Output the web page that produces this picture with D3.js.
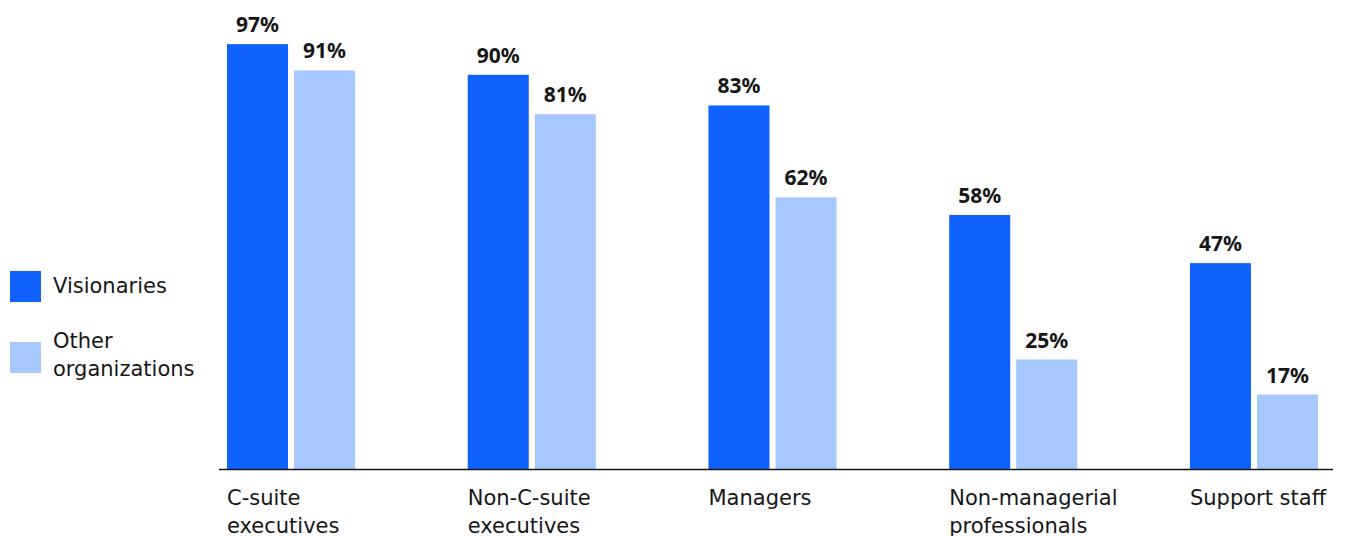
<!DOCTYPE html>
<html>
<head>
<meta charset="utf-8">
<script src="https://cdn.jsdelivr.net/npm/d3@7"></script>
<style>
  body { margin: 0; background: #fff; }
  text { font-family: "DejaVu Sans", "Noto Sans", sans-serif; fill: #161616; }
  text.value { font-family: "Noto Sans", sans-serif; }
</style>
</head>
<body>
<svg id="chart" width="1348" height="536"></svg>
<script>
const categories = [
  ["C-suite", "executives"],
  ["Non-C-suite", "executives"],
  ["Managers"],
  ["Non-managerial", "professionals"],
  ["Support staff"]
];
const seriesNames = ["Visionaries", "Other organizations"];
const legendLines = [["Visionaries"], ["Other", "organizations"]];
const visionaries = [97, 90, 83, 58, 47];
const others = [91, 81, 62, 25, 17];
const colors = ["#0f62fe", "#a6c8ff"];

const svg = d3.select("svg#chart");

//scales
const x0 = d3
  .scaleBand()
  .domain(d3.range(categories.length))
  .range([227, 1318])
  .paddingInner(0.468)
  .paddingOuter(0);

const x1 = d3
  .scaleBand()
  .domain(d3.range(seriesNames.length))
  .range([0, x0.bandwidth()])
  .paddingInner(0.0896)
  .paddingOuter(0);

const y = d3.scaleLinear().domain([0, 100]).range([469, 31]);

const rows = categories.map((c, i) => ({
  label: c,
  values: [visionaries[i], others[i]]
}));

//bars
const groups = svg
  .selectAll("g.group")
  .data(rows)
  .join("g")
  .attr("class", "group")
  .attr("transform", (d, i) => `translate(${x0(i)},0)`);

groups
  .selectAll("rect")
  .data(d => d.values)
  .join("rect")
  .attr("x", (d, j) => x1(j))
  .attr("y", d => y(d))
  .attr("width", x1.bandwidth())
  .attr("height", d => y(0) - y(d))
  .attr("fill", (d, j) => colors[j]);

groups
  .selectAll("text.value")
  .data(d => d.values)
  .join("text")
  .attr("class", "value")
  .attr("x", (d, j) => x1(j) + x1.bandwidth() / 2)
  .attr("y", d => y(d) - 12)
  .attr("text-anchor", "middle")
  .attr("font-size", 21)
  .attr("font-weight", 700)
  .text(d => d + "%");

//baseline
svg
  .append("line")
  .attr("x1", 219)
  .attr("x2", 1333)
  .attr("y1", y(0) + 0.5)
  .attr("y2", y(0) + 0.5)
  .attr("stroke", "#161616")
  .attr("stroke-width", 1.5);

//category labels
groups
  .append("text")
  .attr("class", "cat")
  .attr("font-size", 21)
  .selectAll("tspan")
  .data(d => d.label)
  .join("tspan")
  .attr("x", 0)
  .attr("y", (d, k) => 505 + k * 28)
  .text(d => d);

//legend
const legend = svg
  .selectAll("g.legend")
  .data(legendLines)
  .join("g")
  .attr("class", "legend")
  .attr("transform", (d, i) => `translate(10,${271 + i * 71})`);

legend
  .append("rect")
  .attr("width", 31)
  .attr("height", 31)
  .attr("fill", (d, i) => colors[i]);

legend
  .append("text")
  .attr("font-size", 21)
  .selectAll("tspan")
  .data(d => d)
  .join("tspan")
  .attr("x", 43)
  .attr("y", (d, k, nodes) => (nodes.length > 1 ? 6 + k * 28 : 22))
  .text(d => d);
</script>
</body>
</html>
